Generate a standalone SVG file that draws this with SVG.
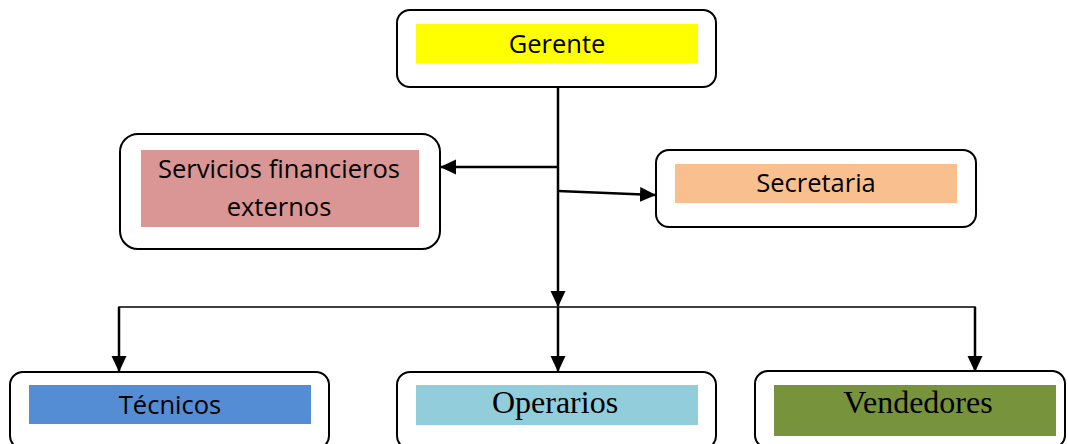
<svg xmlns="http://www.w3.org/2000/svg" width="1068" height="444" viewBox="0 0 1068 444">
<defs>
<marker id="ah" markerUnits="userSpaceOnUse" markerWidth="16" markerHeight="16" viewBox="0 0 16 16" refX="15" refY="8" orient="auto">
<path d="M0,0.5 L16,8 L0,15.5 z" fill="#000"/>
</marker>
</defs>
<style>
.box{fill:#fff;stroke:#000;stroke-width:2}
.sans{font-family:"Open Sans","Liberation Sans",sans-serif;font-size:25.5px;fill:#000;text-anchor:middle}
.serif{font-family:"Liberation Serif","Times New Roman",serif;font-size:32px;fill:#000;text-anchor:middle}
.c{stroke:#000;stroke-width:2.5;fill:none}
.thin{stroke:#000;stroke-width:1.6;fill:none}
</style>
<rect width="1068" height="444" fill="#fff"/>
<g id="connectors">
<line class="c" x1="558" y1="87" x2="558" y2="306" marker-end="url(#ah)"/>
<line class="c" x1="558" y1="167" x2="441" y2="167" marker-end="url(#ah)"/>
<line class="c" x1="558" y1="191" x2="655" y2="195" marker-end="url(#ah)"/>
<polyline class="thin" points="119,370 119,307 975,307 975,370"/>
<line class="c" x1="119" y1="307" x2="119" y2="371" marker-end="url(#ah)"/>
<line class="c" x1="558" y1="307" x2="558" y2="371" marker-end="url(#ah)"/>
<line class="c" x1="975" y1="307" x2="975" y2="371" marker-end="url(#ah)"/>
</g>
<g id="gerente">
<rect class="box" x="397" y="10" width="319" height="77" rx="13"/>
<rect x="416" y="24" width="282" height="39" fill="#ffff00"/>
<text class="sans" x="557" y="53">Gerente</text>
</g>
<g id="servicios">
<rect class="box" x="120" y="134" width="320" height="115" rx="18"/>
<rect x="141" y="150" width="278" height="77" fill="#da9694"/>
<text class="sans" x="279" y="178">Servicios financieros</text>
<text class="sans" x="279" y="216">externos</text>
</g>
<g id="secretaria">
<rect class="box" x="656" y="150" width="320" height="77" rx="13"/>
<rect x="675" y="164" width="282" height="39" fill="#f9bf8f"/>
<text class="sans" x="816" y="192">Secretaria</text>
</g>
<g id="tecnicos">
<rect class="box" x="10" y="372" width="319" height="77" rx="13"/>
<rect x="29" y="385" width="282" height="39" fill="#548dd4"/>
<text class="sans" x="170" y="414">Técnicos</text>
</g>
<g id="operarios">
<rect class="box" x="397" y="372" width="319" height="77" rx="13"/>
<rect x="416" y="385" width="282" height="40" fill="#92cddc"/>
<text class="serif" x="555" y="413">Operarios</text>
</g>
<g id="vendedores">
<rect class="box" x="755" y="371" width="310" height="77" rx="13"/>
<rect x="774" y="385" width="282" height="51" fill="#77933c"/>
<text class="serif" x="918" y="413">Vendedores</text>
</g>
</svg>
